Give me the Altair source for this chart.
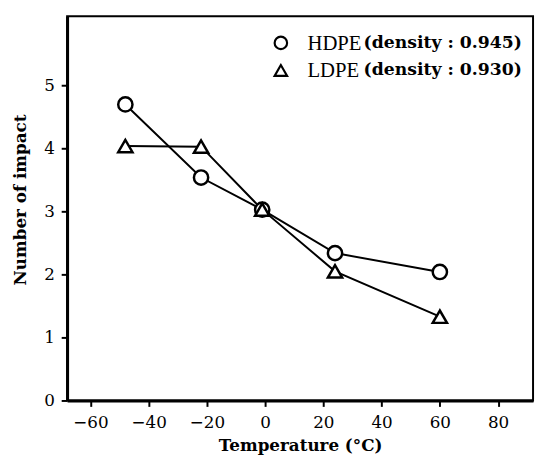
import altair as alt
import pandas as pd

temps_hdpe = [-48, -22, -1, 24, 60]
impact_hdpe = [4.70, 3.54, 3.03, 2.34, 2.04]
temps_ldpe = [-48, -22, -1, 24, 60]
impact_ldpe = [4.04, 4.03, 3.03, 2.05, 1.33]
series = ["HDPE", "LDPE"]
legend_names = ["HDPE", "LDPE"]
legend_details = ["(density : 0.945)", "(density : 0.930)"]
x_ticks = [-60, -40, -20, 0, 20, 40, 60, 80]
y_ticks = [0, 1, 2, 3, 4, 5]

df = pd.DataFrame({
    "temp": temps_hdpe + temps_ldpe,
    "impact": impact_hdpe + impact_ldpe,
    "series": [series[0]] * len(temps_hdpe) + [series[1]] * len(temps_ldpe),
})

FONT = "DejaVu Serif"
NAME_FONT = "Liberation Serif"

x = alt.X("temp:Q", scale=alt.Scale(domain=[-68, 92], nice=False, zero=False),
          axis=alt.Axis(values=x_ticks, format="d", title="Temperature (°C)", grid=False,
                        domainWidth=3, domainColor="black", tickColor="black", tickWidth=2,
                        tickSize=6, labelPadding=8, labelFontSize=17, labelFont=FONT,
                        labelColor="black", titleFont=FONT, titleFontSize=17,
                        titleFontWeight="bold", titleColor="black", titlePadding=8))
y = alt.Y("impact:Q", scale=alt.Scale(domain=[0, 6.1], nice=False),
          axis=alt.Axis(values=y_ticks, format="d", title="Number of impact", grid=False,
                        domainWidth=3, domainColor="black", tickColor="black", tickWidth=2,
                        tickSize=6, labelPadding=7, labelFontSize=17, labelFont=FONT,
                        labelColor="black", titleFont=FONT, titleFontSize=17,
                        titleFontWeight="bold", titleColor="black", titlePadding=14,
                        titleY=186))

shape_scale = alt.Scale(domain=series, range=["circle", "triangle-up"])

lines = alt.Chart(df).mark_line(color="black", strokeWidth=2).encode(
    x=x, y=y, detail="series:N")
points = alt.Chart(df).mark_point(filled=False, fill="white", fillOpacity=1,
                                  color="black", strokeWidth=2.5, size=210, opacity=1).encode(
    x="temp:Q", y="impact:Q",
    shape=alt.Shape("series:N", scale=shape_scale, legend=None))

leg_df = pd.DataFrame({
    "series": series, "name": legend_names, "detail": legend_details,
})
row_y = [27, 55]

legend_layers = []
for i, s in enumerate(series):
    base = alt.Chart(leg_df).transform_filter(alt.datum.series == s)
    legend_layers.append(base.mark_point(filled=False, color="black", strokeWidth=2.2,
                                         size=160, opacity=1).encode(
        x=alt.value(217), y=alt.value(row_y[i]),
        shape=alt.Shape("series:N", scale=shape_scale, legend=None)))
    legend_layers.append(base.mark_text(align="left", baseline="middle", font=NAME_FONT,
                                        fontSize=21, color="black").encode(
        x=alt.value(244), y=alt.value(row_y[i] + 1), text="name:N"))
    legend_layers.append(base.mark_text(align="left", baseline="middle", font=FONT,
                                        fontSize=17.5, fontWeight="bold", color="black").encode(
        x=alt.value(301), y=alt.value(row_y[i]), text="detail:N"))

chart = alt.layer(lines, points, *legend_layers).properties(
    width=473, height=390,
    autosize=alt.AutoSizeParams(type="none"),
    padding={"left": 60, "top": 5, "right": 3, "bottom": 55},
).configure_view(stroke="black", strokeWidth=2)

chart.save("out.html", embed_options={"renderer": "svg", "actions": False})
